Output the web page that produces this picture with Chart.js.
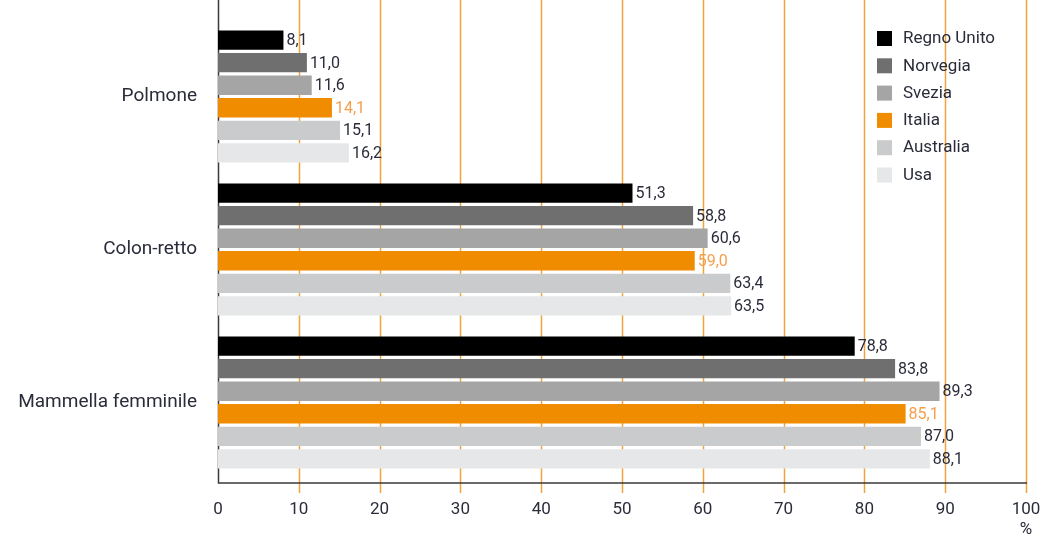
<!DOCTYPE html>
<html>
<head>
<meta charset="utf-8">
<script src="https://cdn.jsdelivr.net/npm/chart.js@4.4.0/dist/chart.umd.min.js"></script>
<style>
  html, body { margin: 0; padding: 0; background: #ffffff; }
  #wrap { width: 1041px; height: 541px; position: relative; }
</style>
</head>
<body>
<div id="wrap"><canvas id="c" width="1041" height="541"></canvas></div>
<script>
// Sopravvivenza a 5 anni per sede tumorale e paese (%)
const categories = ['Polmone', 'Colon-retto', 'Mammella femminile'];
const countries = ['Regno Unito', 'Norvegia', 'Svezia', 'Italia', 'Australia', 'Usa'];
const regnoUnito = [8.1, 51.3, 78.8];
const norvegia = [11.0, 58.8, 83.8];
const svezia = [11.6, 60.6, 89.3];
const italia = [14.1, 59.0, 85.1];
const australia = [15.1, 63.4, 87.0];
const usa = [16.2, 63.5, 88.1];
const xTicks = [0, 10, 20, 30, 40, 50, 60, 70, 80, 90, 100];

const seriesValues = [regnoUnito, norvegia, svezia, italia, australia, usa];
const barColors = ['#000000', '#6f6f6f', '#a5a5a5', '#f08c00', '#cacbcc', '#e6e7e8'];
const labelColors = ['#2a2c3a', '#2a2c3a', '#2a2c3a', '#f5a04e', '#2a2c3a', '#2a2c3a'];
const FONT = 'Roboto, "Noto Sans", sans-serif';
const GRID = '#f2a23a';
const AXIS = '#3a3a3a';

const datasets = countries.map((name, i) => ({
  label: name,
  data: seriesValues[i],
  backgroundColor: barColors[i],
  borderWidth: 0,
  categoryPercentage: 0.885,
  barPercentage: 0.86
}));

const fmt = v => v.toFixed(1).replace('.', ',');

// Vertical grid lines and axis lines, drawn behind the bars
const gridPlugin = {
  id: 'gridLines',
  beforeDatasetsDraw(chart) {
    const { ctx, chartArea, scales } = chart;
    const x = scales.x;
    const axisY = chartArea.bottom + 4;
    ctx.save();
    ctx.lineWidth = 1.5;
    ctx.strokeStyle = GRID;
    xTicks.forEach(t => {
      if (t === 0) return;
      const px = Math.round(x.getPixelForValue(t)) + 0.5;
      ctx.beginPath();
      ctx.moveTo(px, 0);
      ctx.lineTo(px, axisY + 10);
      ctx.stroke();
    });
    ctx.strokeStyle = AXIS;
    ctx.lineWidth = 1.5;
    const x0 = Math.round(x.getPixelForValue(0)) + 0.5;
    ctx.beginPath();
    ctx.moveTo(x0, 0);
    ctx.lineTo(x0, axisY);
    ctx.lineTo(x.getPixelForValue(100) + 1, axisY);
    ctx.stroke();
    ctx.restore();
  }
};

// Value labels at the end of each bar, legend and unit label
const labelPlugin = {
  id: 'valueLabels',
  afterDatasetsDraw(chart) {
    const { ctx, scales } = chart;
    ctx.save();
    ctx.font = '16px ' + FONT;
    ctx.textBaseline = 'middle';
    ctx.textAlign = 'left';
    chart.data.datasets.forEach((ds, i) => {
      const meta = chart.getDatasetMeta(i);
      meta.data.forEach((bar, j) => {
        ctx.fillStyle = labelColors[i];
        ctx.fillText(fmt(ds.data[j]), bar.x + 3, bar.y + 1);
      });
    });

    // legend
    const lx = 877, ly = 38, step = 27.3;
    ctx.font = '17px ' + FONT;
    countries.forEach((name, i) => {
      const y = ly + i * step;
      ctx.fillStyle = barColors[i];
      ctx.fillRect(lx, y - 7, 15, 15);
      ctx.fillStyle = '#2a2c3a';
      ctx.fillText(name, lx + 26, y + 1);
    });

    // unit
    ctx.textAlign = 'center';
    ctx.fillStyle = '#2a2c3a';
    ctx.font = '17px ' + FONT;
    ctx.fillText('%', scales.x.getPixelForValue(100), 530);
    ctx.restore();
  }
};

new Chart(document.getElementById('c'), {
  type: 'bar',
  data: { labels: categories, datasets },
  options: {
    indexAxis: 'y',
    responsive: false,
    animation: false,
    layout: { padding: { top: 20, right: 15, left: 0, bottom: 0 } },
    plugins: { legend: { display: false }, tooltip: { enabled: false } },
    scales: {
      x: {
        min: 0,
        max: 100,
        afterBuildTicks(scale) { scale.ticks = xTicks.map(v => ({ value: v })); },
        afterFit(scale) {
          scale.height = 62;
          scale.paddingLeft = 0;
          scale.paddingRight = 0;
        },
        grid: { display: false, drawTicks: false },
        border: { display: false },
        ticks: {
          color: '#2a2c3a',
          font: { family: FONT, size: 17 },
          padding: 21,
          maxRotation: 0
        }
      },
      y: {
        afterFit(scale) {
          scale.width = 218;
          scale.paddingTop = 0;
          scale.paddingBottom = 0;
        },
        grid: { display: false, drawTicks: false },
        border: { display: false },
        ticks: {
          color: '#2a2c3a',
          font: { family: FONT, size: 19 },
          padding: 21
        }
      }
    }
  },
  plugins: [gridPlugin, labelPlugin]
});
</script>
</body>
</html>
